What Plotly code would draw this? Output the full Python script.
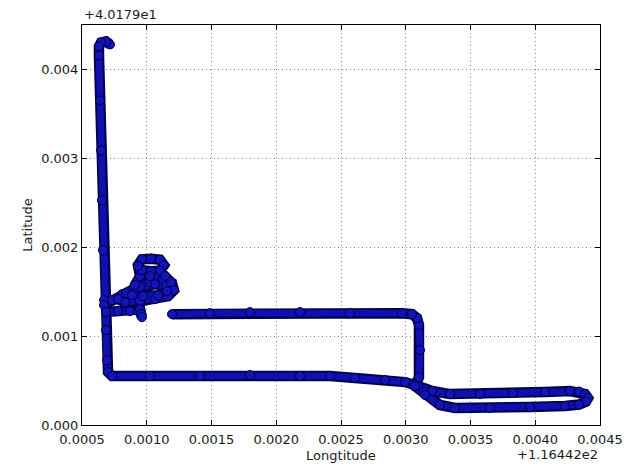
import plotly.graph_objects as go

# GPS track, stored as offsets from the reference coordinate
LON_BASE = 116.442
LAT_BASE = 40.179

# Main route: north spur, south street, eastern loop, block return
main_lon = [0.000716, 0.000685, 0.000647, 0.000631, 0.000631, 0.000639, 0.000647,
            0.000654, 0.000662, 0.000670, 0.000685, 0.000693, 0.000701, 0.000732,
            0.001025, 0.001411, 0.001797, 0.002183, 0.002415, 0.002608, 0.002840,
            0.002994, 0.003095, 0.003203, 0.003342, 0.003574, 0.003828, 0.004075,
            0.004268, 0.004338, 0.004384, 0.004407, 0.004392, 0.004338, 0.004230,
            0.003960, 0.003651, 0.003380, 0.003264, 0.003149, 0.003071, 0.003102,
            0.003110, 0.003102, 0.003087, 0.003048, 0.002971, 0.002569, 0.002183,
            0.001797, 0.001488, 0.001195]
main_lat = [0.004281, 0.004315, 0.004303, 0.004258, 0.004157, 0.003652, 0.003090,
            0.002528, 0.001966, 0.001404, 0.001067, 0.000730, 0.000596, 0.000551,
            0.000551, 0.000551, 0.000562, 0.000551, 0.000551, 0.000528, 0.000506,
            0.000483, 0.000438, 0.000382, 0.000348, 0.000348, 0.000360, 0.000371,
            0.000382, 0.000376, 0.000348, 0.000303, 0.000264, 0.000230, 0.000213,
            0.000202, 0.000191, 0.000191, 0.000225, 0.000337, 0.000438, 0.000539,
            0.000843, 0.001124, 0.001202, 0.001247, 0.001258, 0.001258, 0.001270,
            0.001270, 0.001258, 0.001247]

# Circling near the north-west corner
loop_lon = [0.000670, 0.000732, 0.000809, 0.000909, 0.001025, 0.001125, 0.001195,
            0.001210, 0.001164, 0.001064, 0.000948, 0.000832, 0.000778, 0.000840,
            0.000948, 0.001064, 0.001149, 0.001157, 0.001087, 0.000971, 0.000886,
            0.000909, 0.000948, 0.000932, 0.000963, 0.001033, 0.001102, 0.001133,
            0.001102, 0.001033, 0.000963, 0.000932, 0.001025, 0.001141, 0.001187]
loop_lat = [0.001348, 0.001404, 0.001472, 0.001539, 0.001607, 0.001640, 0.001596,
            0.001517, 0.001449, 0.001416, 0.001393, 0.001382, 0.001416, 0.001483,
            0.001551, 0.001584, 0.001562, 0.001506, 0.001461, 0.001450, 0.001461,
            0.001573, 0.001674, 0.001798, 0.001865, 0.001871, 0.001860, 0.001798,
            0.001736, 0.001730, 0.001742, 0.001787, 0.001674, 0.001674, 0.001607]

# Short eastward spur off the north street
spur_lon = [0.000685, 0.000778, 0.000871, 0.000932, 0.000948, 0.000956, 0.000963]
spur_lat = [0.001270, 0.001281, 0.001281, 0.001281, 0.001303, 0.001247, 0.001213]

lon = main_lon + [None] + loop_lon + [None] + spur_lon
lat = main_lat + [None] + loop_lat + [None] + spur_lat

x_ticks = [0.0005, 0.0010, 0.0015, 0.0020, 0.0025, 0.0030, 0.0035, 0.0040, 0.0045]
y_ticks = [0.000, 0.001, 0.002, 0.003, 0.004]

FONT = "DejaVu Sans"
TEXT = "#1a1a1a"

fig = go.Figure()
# dark outline of the track band
fig.add_trace(go.Scatter(
    x=lon, y=lat, mode="lines",
    line=dict(color="#04044e", width=10.5),
    connectgaps=False, hoverinfo="skip", showlegend=False,
))
# blue core of the band with the fix markers on top
fig.add_trace(go.Scatter(
    x=lon, y=lat, mode="lines+markers",
    line=dict(color="#1010b0", width=6.5),
    marker=dict(size=9, color="#1414bc", line=dict(color="#00003c", width=1)),
    connectgaps=False, hoverinfo="skip", showlegend=False,
))

axis_common = dict(
    showline=True, linecolor="black", linewidth=1, mirror="ticks",
    ticks="inside", ticklen=5, tickcolor="black", automargin=False,
    showgrid=True, gridcolor="#8c8c8c", griddash="1px,3px", gridwidth=1,
    zeroline=False, tickfont=dict(family=FONT, size=13, color=TEXT),
)

fig.update_xaxes(range=[0.0005, 0.0045], tickvals=x_ticks,
                 ticktext=[f"{v:.4f}" for v in x_ticks],
                 ticklabelstandoff=2,
                 title=dict(text="Longtitude", font=dict(family=FONT, size=13, color=TEXT),
                            standoff=5),
                 **axis_common)
fig.update_yaxes(range=[0.0, 0.0045], tickvals=y_ticks,
                 ticktext=[f"{v:.3f}" for v in y_ticks],
                 title=dict(text="Latitude", font=dict(family=FONT, size=13, color=TEXT),
                            standoff=5),
                 **axis_common)

# Offset labels for the axes
fig.add_annotation(text="+4.0179e1",
                   xref="paper", yref="paper", x=0, y=1, xanchor="left", yanchor="bottom",
                   yshift=1, showarrow=False, font=dict(family=FONT, size=13, color=TEXT))
fig.add_annotation(text="+1.16442e2",
                   xref="paper", yref="paper", x=1, y=0, xanchor="right", yanchor="top",
                   yshift=-20, showarrow=False, font=dict(family=FONT, size=13, color=TEXT))

fig.update_layout(
    width=625, height=467,
    margin=dict(l=82, r=25, t=25, b=42),
    plot_bgcolor="white", paper_bgcolor="white",
)

fig.write_html("out.html")
